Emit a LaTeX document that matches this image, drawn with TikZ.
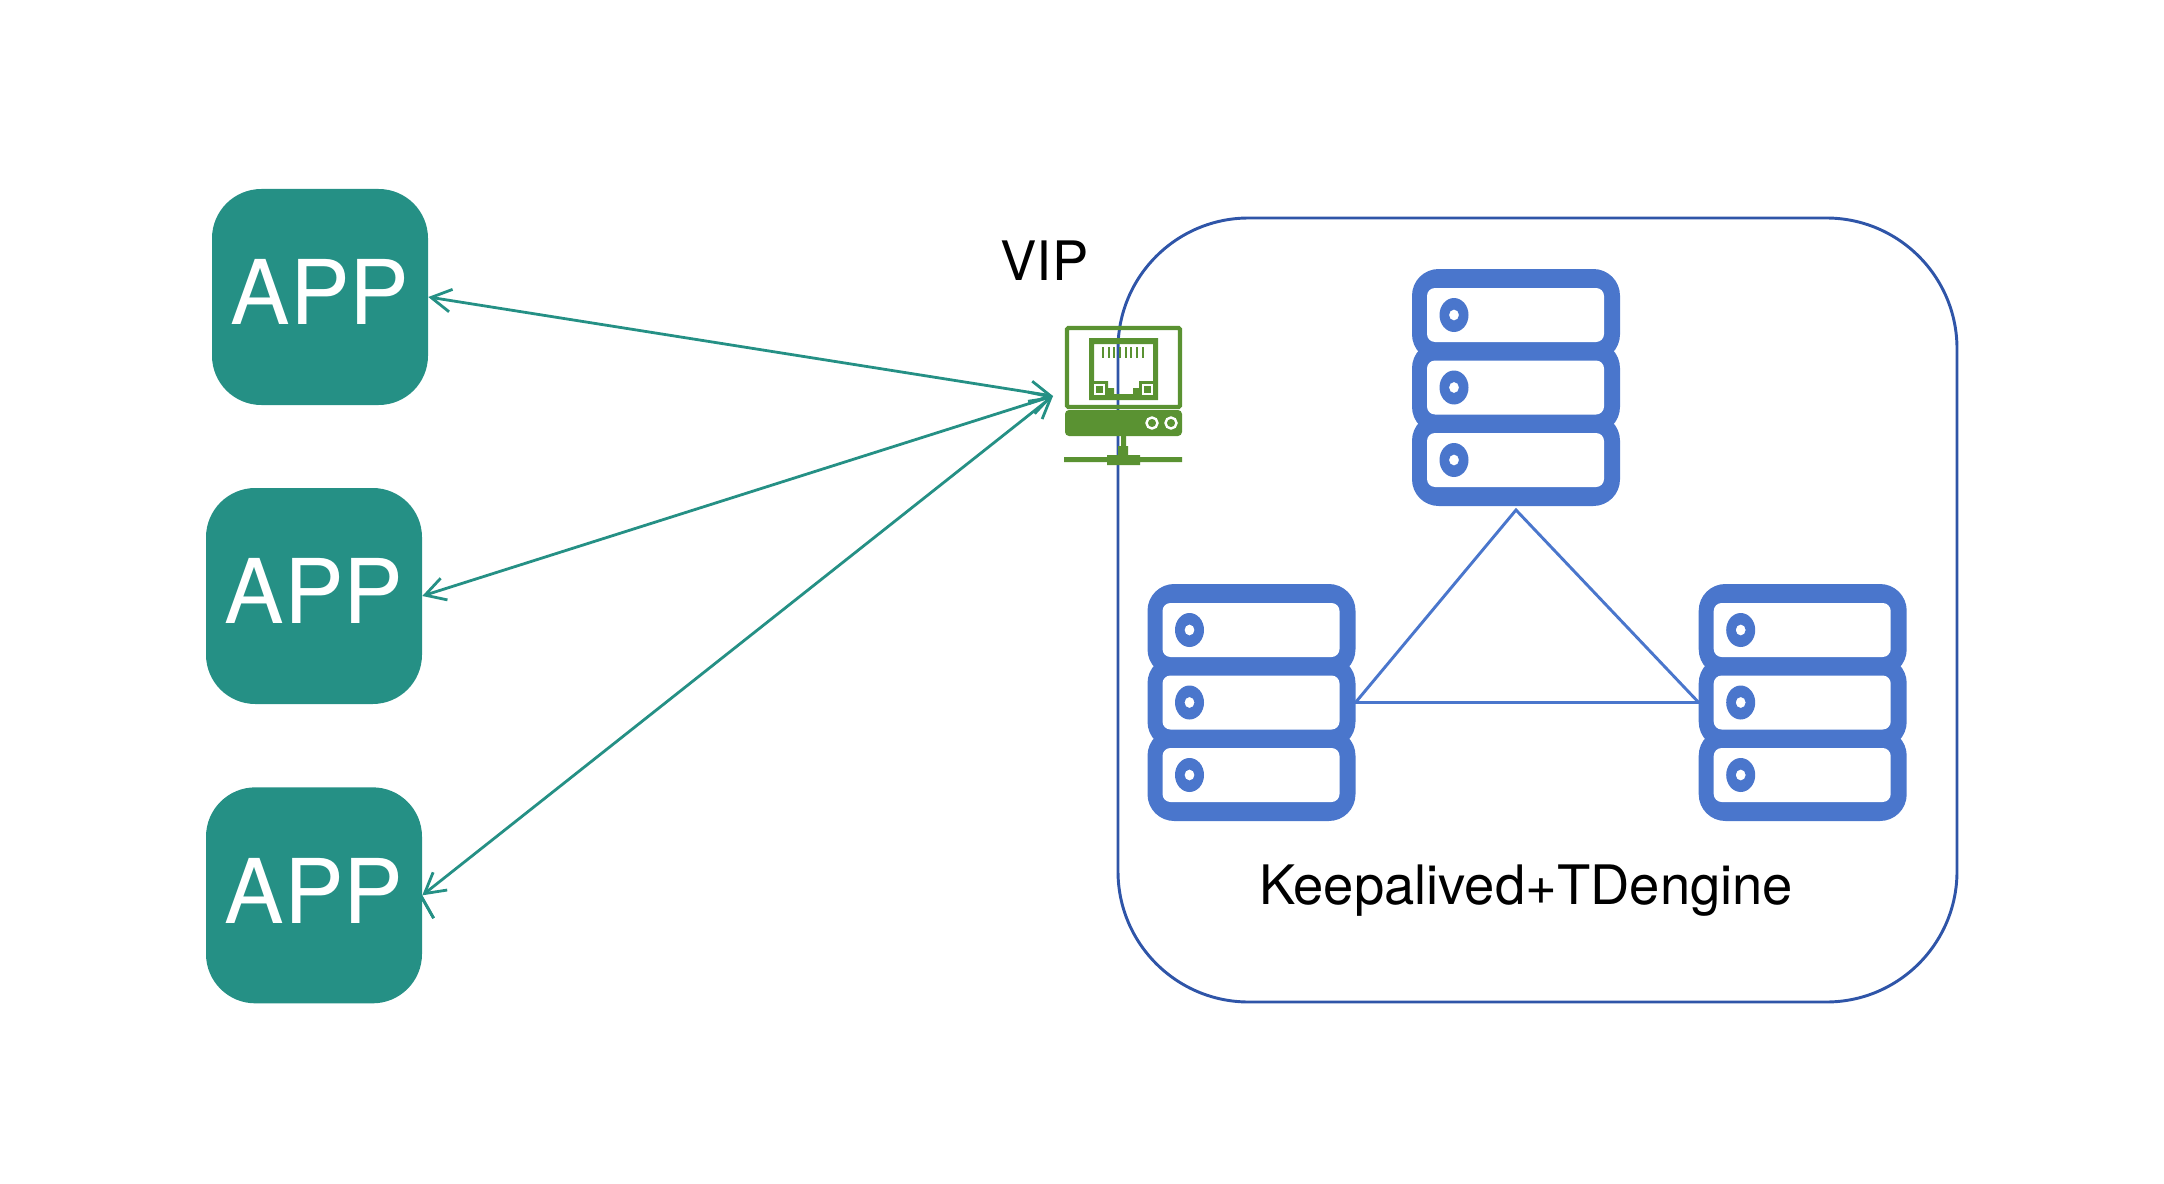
\documentclass[tikz,border=0pt]{standalone}
\usepackage{fontspec}
\setmainfont{TeX Gyre Heros}
\usetikzlibrary{positioning,arrows.meta}
\definecolor{appteal}{HTML}{259085}
\definecolor{srvblue}{HTML}{4A76CC}
\definecolor{lineblue}{HTML}{2F55A8}
\definecolor{vipgreen}{HTML}{5A9232}

\begin{document}
\begin{tikzpicture}[
	x=0.75pt,
	y=-0.75pt,
	on grid,
	app/.style={
		fill=appteal,
		text=white,
		rounded corners=37pt,
		minimum size=162pt,
		inner sep=0pt,
		text depth=7pt,
		font=\fontsize{67}{72}\selectfont
	},
	srv/.style={
		minimum width=156pt,
		minimum height=177.75pt,
		inner sep=0pt,
		outer sep=0pt
	},
	cluster/.style={
		draw=lineblue,
		line width=2.2pt,
		rounded corners=98pt,
		minimum width=629.25pt,
		minimum height=588pt
	},
	link/.style={
		draw=appteal,
		line width=2.1pt,
		{Straight Barb[length=15pt,width=17pt]}-{Straight Barb[length=15pt,width=17pt]}
	},
	ring/.style={
		draw=srvblue,
		line width=2.2pt
	},
	label/.style={
		font=\fontsize{40.8}{48}\selectfont,
		anchor=base
	}]

	\useasboundingbox (0,0) rectangle (2164,1184);

	\node[cluster] (cluster) at (1537.5,610) {};

	\node[app] (app_0) at (320,297) {APP};
	\node[app] (app_1) at (314,596) {APP};
	\node[app, below=224.5pt of app_1] (app_2) {APP};

	\node[srv] (srv_0) at (1516,387.5) {};
	\node[srv] (srv_1) at (1251.5,702.5) {};
	\node[srv, right=413.4pt of srv_1] (srv_2) {};

	% three stacked units per server
	\foreach \srv in {srv_0,srv_1,srv_2} {
		\begin{scope}[shift={(\srv.center)}]
			\foreach \dy in {-72.5,0,72.5} {
				\fill[srvblue, rounded corners=20pt] (-104,\dy-46) rectangle (104,\dy+46);
			}
			\foreach \dy in {-72.5,0,72.5} {
				\fill[white, rounded corners=6pt] (-89,\dy-27) rectangle (88,\dy+27);
				\fill[srvblue, even odd rule] (-62,\dy) ellipse [x radius=14.5, y radius=17]
					(-62,\dy) ellipse [x radius=5, y radius=5.5];
			}
		\end{scope}
	}

	\draw[ring] ([yshift=-3pt]srv_0.south) -- (srv_1.east) -- (srv_2.west) -- cycle;

	% network icon
	\node[draw=vipgreen, line width=3.2pt, rounded corners=1pt, minimum width=84.75pt,
		minimum height=59.25pt, inner sep=0pt] (vip) at (1123.5,367.5) {};
	\fill[vipgreen, even odd rule] (1089,338) rectangle (1158,400)
		(1094,344) -- (1153,344) -- (1153,381) -- (1139,381) -- (1139,388) -- (1133,388)
		-- (1133,394) -- (1114,394) -- (1114,388) -- (1108,388) -- (1108,381) -- (1094,381) -- cycle;
	\draw[white, line width=0.9pt] (1095,385) rectangle (1104,394) (1143,385) rectangle (1152,394);
	\foreach \x in {1103,1108.6,1114.3,1120,1125.7,1131.4,1137,1143} {
		\fill[vipgreen] (\x-1,347) rectangle (\x+1,358);
	}
	\fill[vipgreen, rounded corners=3pt] (1065,410) rectangle (1182,436);
	\draw[white, line width=1.8pt] (1152,423) circle [radius=5.5] (1171,423) circle [radius=5.5];
	\fill[vipgreen] (1121,436) rectangle (1126,446) (1118,446) rectangle (1128,455)
		(1064,457) rectangle (1182,462) (1107,455) rectangle (1140,465);

	\node[label] (vip_text) at (1044.5,280) {VIP};
	\node[label] (cluster_text) at (1526,904) {Keepalived+TDengine};

	\coordinate (vip_in) at (1053,396);
	\path[link]
		(app_0.east) edge (vip_in)
		(app_1.east) edge (vip_in)
		(app_2.east) edge (vip_in);
\end{tikzpicture}
\end{document}
